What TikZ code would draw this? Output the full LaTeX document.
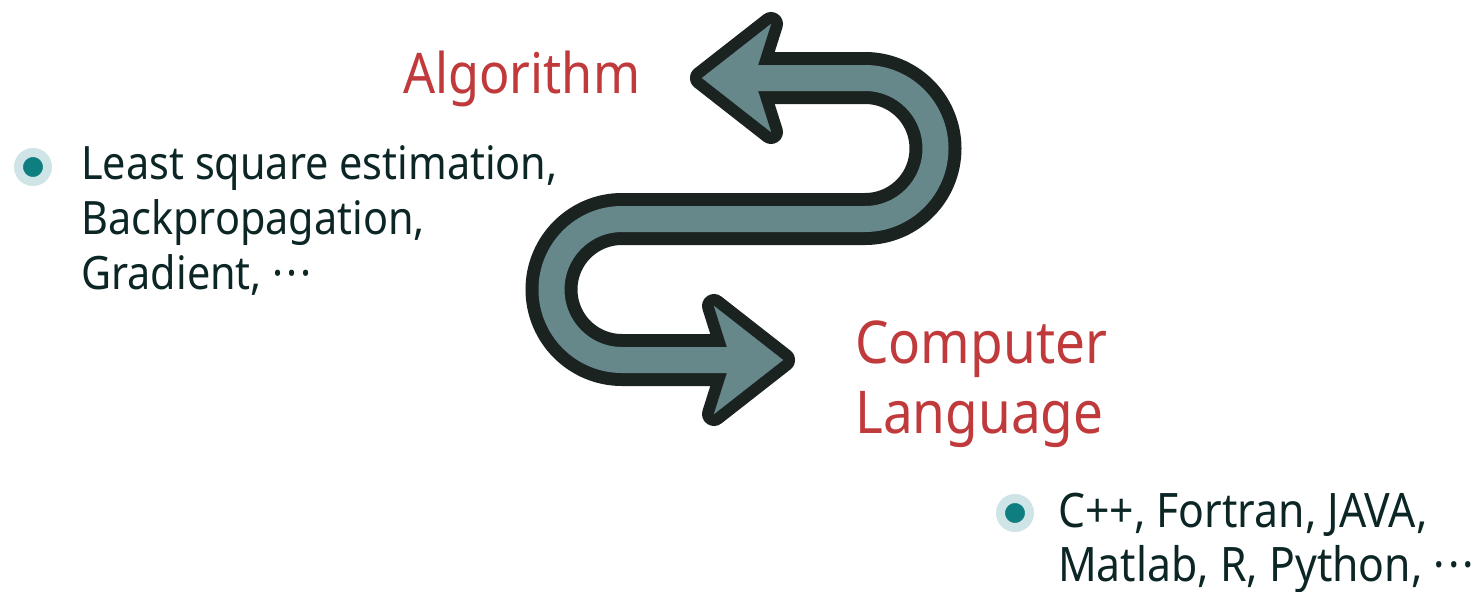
\documentclass[tikz,border=0pt]{standalone}
\usepackage{fontspec}
\setmainfont{Noto Sans}[FakeStretch=0.9]
\usetikzlibrary{positioning}

\definecolor{arrowfill}{HTML}{66888B}
\definecolor{arrowline}{HTML}{1B2321}
\definecolor{titlered}{HTML}{C03A3C}
\definecolor{bodytext}{HTML}{0C2626}
\definecolor{dotlight}{HTML}{CFE4E6}
\definecolor{dotdark}{HTML}{0F7E80}

\newcommand{\moredots}{·\kern3pt·\kern3pt·}
\tikzset{
	title/.style={text=titlered, inner sep=0pt, anchor=base west, align=left},
	body/.style={text=bodytext, font=\fontsize{46}{55}\selectfont, inner sep=0pt, anchor=base west, align=left},
	bullet/.style={circle, fill=dotdark, draw=dotlight, line width=9pt, minimum size=29pt, inner sep=0pt}
}

\begin{document}
\begin{tikzpicture}[x=1pt, y=-1pt]
		\useasboundingbox (0,0) rectangle (1476,592);
		% arrow: dark outline first, grey body on top
		\foreach \lw/\hw/\col in {52/24/arrowline, 26/0.1/arrowfill} {
			\draw[\col, line width=\lw pt] (745,78) -- (865,78)
			arc[start angle=-90, end angle=90, radius=70.5] -- (622,219)
			arc[start angle=270, end angle=90, radius=70.5] -- (742,360);
			\filldraw[\col, line width=\hw pt, line join=round]
			(702,78) -- (771,24) -- (758,65) -- (758,91) -- (771,132) -- cycle;
			\filldraw[\col, line width=\hw pt, line join=round]
			(783,360) -- (714,306) -- (727,347) -- (727,373) -- (714,414) -- cycle;
		}
		\node[title, font=\fontsize{56}{70}\selectfont] (algo) at (403,93) {Algorithm};
		\node[title, font=\fontsize{59}{70}\selectfont] (lang) at (855,433) {Computer\\Language};
		\node[bullet] (dot1) at (33,167) {};
		\node[body] (algolist) at (81,289) {Least square estimation,\\Backpropagation,\\Gradient, \moredots};
		\node[bullet] (dot2) at (1015,513) {};
		\node[body, font=\fontsize{47.5}{54}\selectfont] (langlist) at (1058,581) {C++, Fortran, JAVA,\\Matlab, R, Python, \moredots};
	\end{tikzpicture}
\end{document}
